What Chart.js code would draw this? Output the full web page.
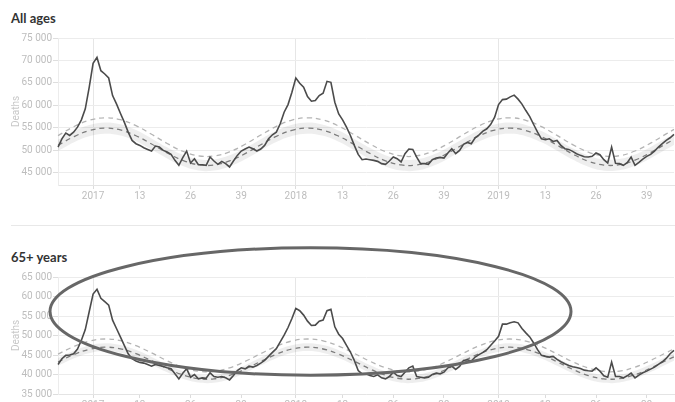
<!DOCTYPE html>
<html>
<head>
<meta charset="utf-8">
<script src="https://cdn.jsdelivr.net/npm/chart.js@4.4.1/dist/chart.umd.min.js"></script>
<style>
  html, body { margin:0; padding:0; background:#fff; width:675px; height:402px; overflow:hidden; }
  .title { position:absolute; left:11px; font-family:Lato, "Open Sans", sans-serif; font-weight:700; font-size:13px; color:#333; line-height:16px; }
  .wrap { position:absolute; left:0; }
  #sep { position:absolute; left:11px; top:225px; width:664px; height:1px; background:#e8e8e8; }
  #ann { position:absolute; left:0; top:0; pointer-events:none; }
</style>
</head>
<body>
<div class="title" style="top:10px">All ages</div>
<div class="wrap" style="top:28px"><canvas id="c1" width="675" height="180"></canvas></div>
<div id="sep"></div>
<div class="title" style="top:249px">65+ years</div>
<div class="wrap" style="top:267px"><canvas id="c2" width="675" height="150"></canvas></div>
<svg id="ann" width="675" height="402"><ellipse cx="310.5" cy="311.5" rx="260.5" ry="63.7" fill="none" stroke="#676767" stroke-width="3"/></svg>
<script>
// ---- categories: ISO weeks from 2016-W44 to 2019-W46 ----
const weeks = [];
[[2016,44,52],[2017,1,52],[2018,1,52],[2019,1,46]].forEach(([yr,a,b]) => {
  for (let w = a; w <= b; w++) weeks.push(yr + '-' + String(w).padStart(2,'0'));
});

// ---- x tick labels ----
const tickWeeks  = ['2017-01','2017-13','2017-26','2017-39','2018-01','2018-13','2018-26','2018-39','2019-01','2019-13','2019-26','2019-39'];
const tickLabels = ['2017','13','26','39','2018','13','26','39','2019','13','26','39'];
const yearWeeks  = ['2017-01','2018-01','2019-01'];

// ---- y ticks ----
const yTicksAll = [45000,50000,55000,60000,65000,70000,75000];
const yTicks65  = [35000,40000,45000,50000,55000,60000,65000];

// ---- weekly deaths, all ages ----
const deathsAll = [
 50740,52580,53840,53320,54060,55170,56800,59230,64030,69350,
 70680,67720,66990,66100,62190,60340,58270,56280,54060,52220,
 51480,51110,50590,50220,49850,50960,50740,50000,49630,49110,
 47780,46680,48380,49850,47190,48150,46820,46820,46680,48520,
 47640,46900,47560,47050,46310,47640,48890,49850,50300,50740,
 50370,49850,50300,51110,52580,53470,54060,55910,58490,60190,
 62920,66100,64920,64030,61960,60930,61080,62190,62700,65360,
 65140,60710,58120,56800,55170,53320,51110,49110,47930,48080,
 47930,47780,47560,47050,46900,47640,48520,48150,47420,49260,
 50300,50220,48520,47050,47050,46900,47930,48300,48450,48300,
 49410,50370,49260,50000,51330,51770,51480,52810,53470,54280,
 54800,55800,57400,60200,61300,61400,61900,62300,61400,60300,
 58860,57530,55760,54060,52580,52360,52580,51990,52220,51110,
 50370,50220,49780,49260,48890,48600,48520,48670,49410,49040,
 47930,47190,50740,47120,47050,46680,47270,48520,46680,47340,
 48080,48670,49110,49850,50740,51480,52220,52810,53540
];

// ---- weekly deaths, 65+ years ----
const deaths65 = [
 42580,44040,44900,44990,45330,46540,48770,51520,56080,60640,
 61840,59520,58660,57800,53930,51790,49640,47480,45330,44040,
 43440,43100,42920,42580,42150,42580,42320,42060,41720,41460,
 40170,38880,40340,41460,39310,40000,38880,39140,39050,40430,
 39480,39310,39480,39140,38620,39740,41030,41720,41460,42150,
 41890,42320,42920,43610,44650,45680,46620,48350,50070,52050,
 54370,56950,56350,55230,53680,52560,52650,53680,53940,56350,
 56690,52220,50330,49210,47480,45770,43610,41030,40170,40170,
 39740,39480,39910,39140,38880,39480,40600,39740,39480,40600,
 41720,42150,39480,39310,39140,39310,40000,40340,40170,40600,
 41720,42150,41290,42060,43610,43780,43440,44470,45080,45680,
 46360,47480,48600,49810,52910,52910,53250,53510,53250,51790,
 50670,49640,48090,46360,44900,44650,44470,44650,43870,43270,
 42750,42320,41980,41810,41550,41120,40950,40860,41720,40860,
 39660,39310,43180,39480,39480,39140,39660,40340,39140,39830,
 40430,40860,41380,41890,42580,43270,44130,45330,46190
];

// ---- baseline samples (every 4th week, plus last week) ----
const baseIdx = [0,4,8,12,16,20,24,28,32,36,40,44,48,52,56,60,64,68,72,76,80,84,88,92,96,100,104,108,112,116,120,124,128,132,136,140,144,148,152,156,158];

const expectedAll = [51120,53020,54400,54950,54540,53260,51420,49430,47770,46800,46750,47650,49270,51250,53120,54460,54950,54480,53160,51300,49320,47680,46760,46780,47730,49390,51370,53220,54520,54950,54420,53050,51170,49200,47600,46740,46820,47820,49510,51490,52460];
const thresholdAll = [53280,55250,56680,57250,56820,55500,53590,51540,49810,48800,48750,49680,51370,53410,55350,56740,57250,56760,55400,53470,51420,49720,48770,48780,49770,51490,53540,55460,56800,57250,56700,55280,53330,51290,49630,48740,48820,49860,51610,53670,54670];
const bandHiAll = [52370,54270,55650,56200,55790,54510,52670,50680,49020,48050,48000,48900,50520,52500,54370,55710,56200,55730,54410,52550,50570,48930,48010,48030,48980,50640,52620,54470,55770,56200,55670,54300,52420,50450,48850,47990,48070,49070,50760,52740,53710];
const bandLoAll = [49870,51770,53150,53700,53290,52010,50170,48180,46520,45550,45500,46400,48020,50000,51870,53210,53700,53230,51910,50050,48070,46430,45510,45530,46480,48140,50120,51970,53270,53700,53170,51800,49920,47950,46350,45490,45570,46570,48260,50240,51210];

const expected65 = [43220,45090,46450,47000,46590,45330,43510,41550,39900,38940,38900,39780,41390,43340,45190,46510,47000,46540,45230,43390,41440,39820,38910,38930,39870,41510,43460,45290,46570,47000,46480,45130,43260,41320,39730,38890,38960,39950,41620,43580,44540];
const threshold65 = [45220,47140,48540,49100,48680,47390,45530,43520,41830,40850,40800,41710,43350,45350,47250,48600,49100,48630,47290,45400,43400,41740,40810,40830,41790,43470,45480,47350,48660,49100,48570,47180,45270,43280,41660,40790,40870,41880,43590,45600,46580];
const bandHi65 = [44220,46090,47450,48000,47590,46330,44510,42550,40900,39940,39900,40780,42390,44340,46190,47510,48000,47540,46230,44390,42440,40820,39910,39930,40870,42510,44460,46290,47570,48000,47480,46130,44260,42320,40730,39890,39960,40950,42620,44580,45540];
const bandLo65 = [42220,44090,45450,46000,45590,44330,42510,40550,38900,37940,37900,38780,40390,42340,44190,45510,46000,45540,44230,42390,40440,38820,37910,37930,38870,40510,42460,44290,45570,46000,45480,44130,42260,40320,38730,37890,37960,38950,40620,42580,43540];

const fmt = v => String(v).replace(/\B(?=(\d{3})+(?!\d))/g, ' ');
const pts = arr => baseIdx.map((w,k) => ({x: weeks[w], y: arr[k]}));

function makeChart(id, main, thr, exp, hi, lo, yMin, yMax, yTicks) {
  const tickFont = { family: 'Roboto, "Open Sans", sans-serif', size: 10 };
  return new Chart(document.getElementById(id), {
    type: 'line',
    data: {
      labels: weeks,
      datasets: [
        { data: main, borderColor: '#4b4b4b', borderWidth: 1.6, pointRadius: 0, tension: 0, fill: false },
        { data: pts(thr), borderColor: '#b4b4b4', borderWidth: 1.3, borderDash: [5,4], pointRadius: 0, tension: 0.4, fill: false },
        { data: pts(exp), borderColor: '#7c7c7c', borderWidth: 1.3, borderDash: [5,4], pointRadius: 0, tension: 0.4, fill: false },
        { data: pts(hi), borderWidth: 0, borderColor: 'rgba(0,0,0,0)', backgroundColor: 'rgba(0,0,0,0.065)', pointRadius: 0, tension: 0.4, fill: '+1' },
        { data: pts(lo), borderWidth: 0, borderColor: 'rgba(0,0,0,0)', pointRadius: 0, tension: 0.4, fill: false }
      ]
    },
    options: {
      responsive: false,
      animation: false,
      events: [],
      layout: { padding: { top: 10, left: 0, right: 0, bottom: 0 } },
      plugins: { legend: { display: false }, tooltip: { enabled: false } },
      scales: {
        x: {
          type: 'category',
          offset: false,
          afterFit: s => { s.height = 23; },
          border: { color: '#e4e4e4' },
          grid: {
            color: c => yearWeeks.includes(weeks[c.index]) ? '#e6e6e6' : 'rgba(0,0,0,0)',
            tickColor: c => tickWeeks.includes(weeks[c.index]) ? '#dcdcdc' : 'rgba(0,0,0,0)',
            tickLength: 4,
            lineWidth: 1
          },
          ticks: {
            autoSkip: false, maxRotation: 0, minRotation: 0, padding: 1,
            color: '#bdbdbd', font: tickFont,
            callback: (v, i) => { const k = tickWeeks.indexOf(weeks[i]); return k >= 0 ? tickLabels[k] : ''; }
          }
        },
        y: {
          min: yMin, max: yMax,
          afterBuildTicks: s => { s.ticks = yTicks.map(v => ({ value: v })); },
          afterFit: s => { s.width = 58; },
          border: { color: '#ececec' },
          grid: { color: '#ececec', tickColor: '#dedede', tickLength: 5 },
          ticks: { color: '#bdbdbd', font: tickFont, padding: 1, callback: v => fmt(v) },
          title: { display: true, text: 'Deaths', color: '#c8c8c8', font: { family: 'Roboto, sans-serif', size: 10 }, padding: { top: 10, bottom: 0 } }
        }
      }
    }
  });
}

makeChart('c1', deathsAll, thresholdAll, expectedAll, bandHiAll, bandLoAll, 42300, 75000, yTicksAll);
makeChart('c2', deaths65, threshold65, expected65, bandHi65, bandLo65, 35000, 65000, yTicks65);
</script>
</body>
</html>
